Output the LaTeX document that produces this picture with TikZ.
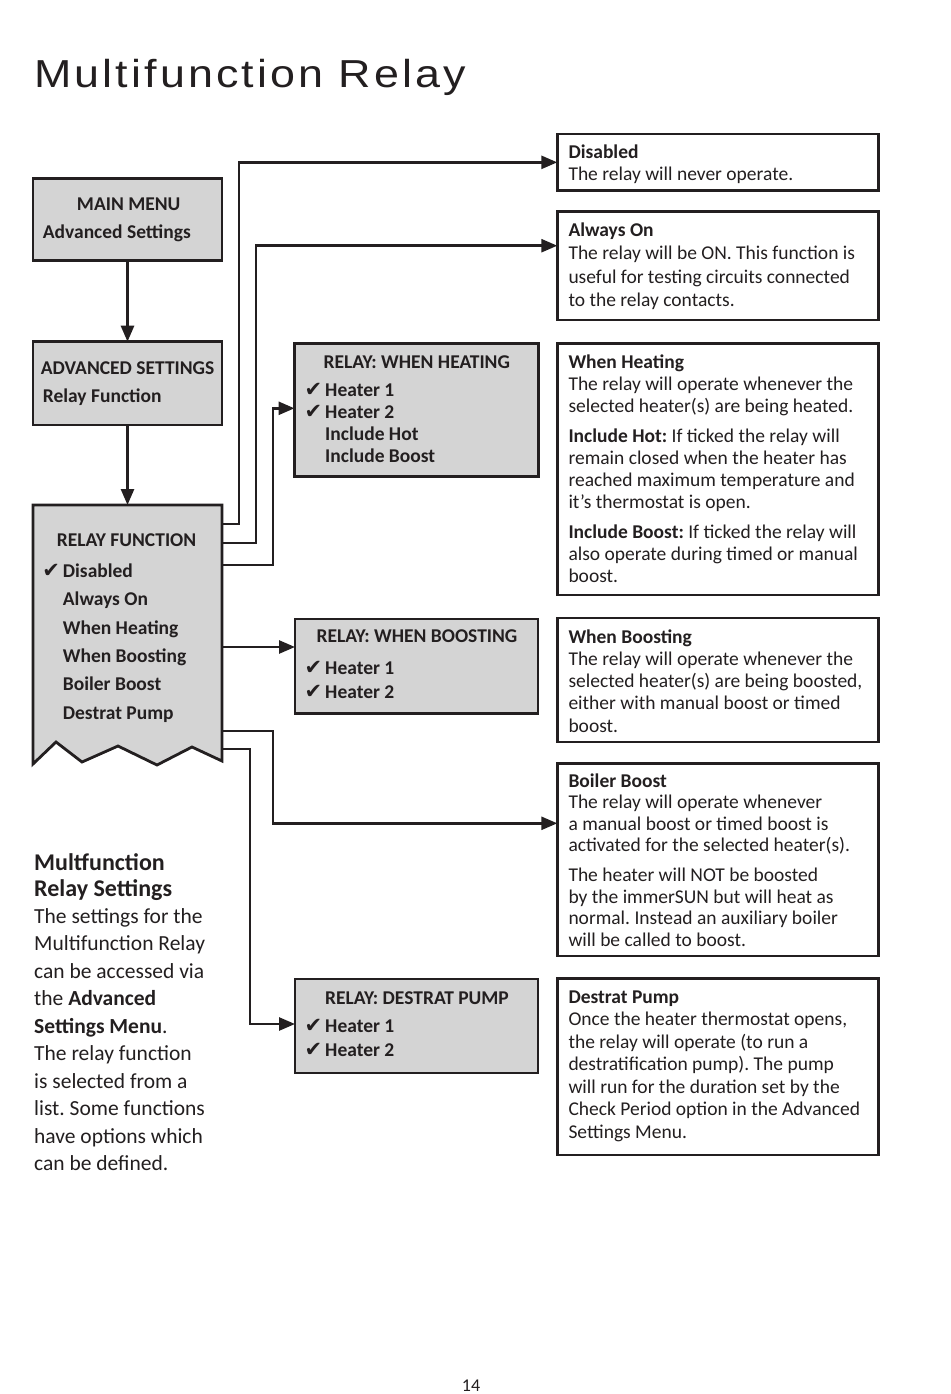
\documentclass[tikz,border=0pt]{standalone}
\usepackage{fontspec}
\setmainfont{Carlito}
\newfontfamily\titlefont[LetterSpace=8,FakeStretch=1.15]{Liberation Sans}
\newfontfamily\symfont{DejaVu Sans}
\usetikzlibrary{arrows.meta}
\definecolor{ink}{HTML}{231F20}
\definecolor{boxgray}{HTML}{D4D4D4}
\newcommand{\tblock}[2]{\vtop{\hsize=#1\relax\raggedright\frenchspacing\parindent=0pt\parskip=0pt\noindent #2\par}}
\newcommand{\tickmark}{\leavevmode\llap{{\symfont\fontsize{21}{21}\selectfont ✔}\hspace{3pt}}}
\begin{document}
\begin{tikzpicture}[x=1pt,y=-1pt,line join=miter,
  gbox/.style={draw=ink, line width=2.8pt, fill=boxgray, inner sep=0pt, outer sep=0pt, anchor=north west},
  wbox/.style={draw=ink, line width=2.8pt, fill=white, inner sep=0pt, outer sep=0pt, anchor=north west},
  conn/.style={draw=ink, line width=2.6pt, -{Triangle[length=16pt,width=13pt]}},
  body/.style={inner sep=0pt, anchor=base west, text=ink, font=\fontsize{19.5}{#1}\selectfont},
  body/.default=22.3,
  menu/.style={inner sep=0pt, anchor=base west, text=ink, font=\bfseries\fontsize{19.5}{#1}\selectfont},
  menu/.default=22]
\fill[white] (0,0) rectangle (950,1394);
\useasboundingbox (0,0) rectangle (950,1394);

% title
\node[anchor=base west, inner sep=0pt, text=ink, font=\titlefont\fontsize{39}{40}\selectfont] (title) at (34,88) {Multifunction Relay};

% left menu boxes
\node[gbox, minimum width=189pt, minimum height=82.5pt] (mm) at (33,178.3) {};
\node[gbox, minimum width=189pt, minimum height=83.3pt] (adv) at (33,341.7) {};
\node[inner sep=0pt, outer sep=0pt, minimum width=189pt, minimum height=256pt, anchor=north west] (rf) at (33,505) {};
\draw[draw=ink, line width=2.8pt, fill=boxgray] (rf.north west) -- (rf.north east) -- (222,761) -- (192,747) -- (157,765) -- (118,746) -- (82,762) -- (56,742) -- (33,764) -- cycle;

\node[menu, anchor=base] (tmm) at (128.7,210) {MAIN MENU};
\node[menu] (tmm2) at (42.7,238.3) {Advanced Settings};
\node[menu] (tadv) at (40.7,374) {ADVANCED SETTINGS};
\node[menu] (tadv2) at (42.7,402.3) {Relay Function};
\node[menu] (trf) at (56.7,546.7) {RELAY FUNCTION};
\node[menu=28.4] (trfl) at (62.7,577.3) {\tblock{150pt}{\tickmark Disabled\\Always On\\When Heating\\When Boosting\\Boiler Boost\\Destrat Pump}};

% middle gray boxes
\node[gbox, minimum width=244pt, minimum height=133.4pt] (wh) at (294.5,343.3) {};
\node[gbox, minimum width=243pt, minimum height=94.3pt] (wb) at (295,619) {};
\node[gbox, minimum width=243pt, minimum height=94pt] (dp) at (295,979) {};

\node[menu, anchor=base] (twh) at (416.8,368.3) {RELAY: WHEN HEATING};
\node[menu=22] (twhl) at (325,396.7) {\tblock{200pt}{\tickmark Heater 1\\\tickmark Heater 2\\Include Hot\\Include Boost}};
\node[menu, anchor=base] (twb) at (417,642.7) {RELAY: WHEN BOOSTING};
\node[menu=24.3] (twbl) at (325,674) {\tblock{200pt}{\tickmark Heater 1\\\tickmark Heater 2}};
\node[menu, anchor=base] (tdp) at (417,1004.3) {RELAY: DESTRAT PUMP};
\node[menu=24.7] (tdpl) at (325,1032) {\tblock{200pt}{\tickmark Heater 1\\\tickmark Heater 2}};

% right description boxes
\node[wbox, minimum width=321pt, minimum height=56.7pt] (dis) at (557.3,134) {};
\node[wbox, minimum width=321pt, minimum height=108.3pt] (ao) at (557.3,211.7) {};
\node[wbox, minimum width=321pt, minimum height=251.7pt] (whx) at (557.3,343.3) {};
\node[wbox, minimum width=321pt, minimum height=124pt] (wbx) at (557.3,618) {};
\node[wbox, minimum width=321pt, minimum height=192.7pt] (bbx) at (557.3,763.3) {};
\node[wbox, minimum width=321pt, minimum height=176.5pt] (dpx) at (557.3,978.5) {};

\node[body=22.7] (tdis) at (568.3,158) {\tblock{330pt}{\textbf{Disabled}\\The relay will never operate.}};
\node[body=23.6] (tao) at (568.3,236) {\tblock{330pt}{\textbf{Always On}\\The relay will be ON. This function is\\useful for testing circuits connected\\to the relay contacts.}};
\node[body=22] (twhx) at (568.3,368.3) {\tblock{330pt}{\textbf{When Heating}\\The relay will operate whenever the\\selected heater(s) are being heated.\\[8pt]\textbf{Include Hot:} If ticked the relay will\\remain closed when the heater has\\reached maximum temperature and\\it’s thermostat is open.\\[8pt]\textbf{Include Boost:} If ticked the relay will\\also operate during timed or manual\\boost.}};
\node[body=22.3] (twbx) at (568.3,643) {\tblock{330pt}{\textbf{When Boosting}\\The relay will operate whenever the\\selected heater(s) are being boosted,\\either with manual boost or timed\\boost.}};
\node[body=21.5] (tbbx) at (568.3,787.3) {\tblock{330pt}{\textbf{Boiler Boost}\\The relay will operate whenever\\a manual boost or timed boost is\\activated for the selected heater(s).\\[8.5pt]The heater will NOT be boosted\\by the immerSUN but will heat as\\normal. Instead an auxiliary boiler\\will be called to boost.}};
\node[body=22.5] (tdpx) at (568.3,1003.3) {\tblock{330pt}{\textbf{Destrat Pump}\\Once the heater thermostat opens,\\the relay will operate (to run a\\destratification pump). The pump\\will run for the duration set by the\\Check Period option in the Advanced\\Settings Menu.}};

% connectors
\draw[conn] (mm.south) -- (adv.north);
\draw[conn] (adv.south) -- (rf.north);
\draw[conn] ([yshift=-19pt]rf.north east) -- ++(17,0) |- (dis.west);
\draw[conn] ([yshift=-38pt]rf.north east) -- ++(34,0) |- ([yshift=-34pt]ao.north west);
\draw[conn] ([yshift=-60pt]rf.north east) -- ++(51,0) |- ([yshift=-65pt]wh.north west);
\coordinate (wbin) at ([yshift=-28pt]wb.north west);
\draw[conn] (rf.east |- wbin) -- (wbin);
\draw[conn] ([yshift=-226pt]rf.north east) -- ++(51,0) |- ([yshift=-60pt]bbx.north west);
\draw[conn] ([yshift=-244pt]rf.north east) -- ++(28,0) |- ([yshift=-45pt]dp.north west);

% left text
\node[anchor=base west, inner sep=0pt, text=ink, font=\bfseries\fontsize{24}{25.5}\selectfont] (lhead) at (34,870.5) {\tblock{200pt}{Multfunction\\Relay Settings}};
\node[anchor=base west, inner sep=0pt, text=ink, font=\fontsize{21.5}{27.5}\selectfont] (lbody) at (34,923.3) {\tblock{220pt}{The settings for the\\Multifunction Relay\\can be accessed via\\the \textbf{Advanced}\\\textbf{Settings Menu}.\\The relay function\\is selected from a\\list. Some functions\\have options which\\can be defined.}};

% page number
\node[text=ink, font=\fontsize{18}{18}\selectfont] (pg) at (471,1386) {14};
\end{tikzpicture}
\end{document}
